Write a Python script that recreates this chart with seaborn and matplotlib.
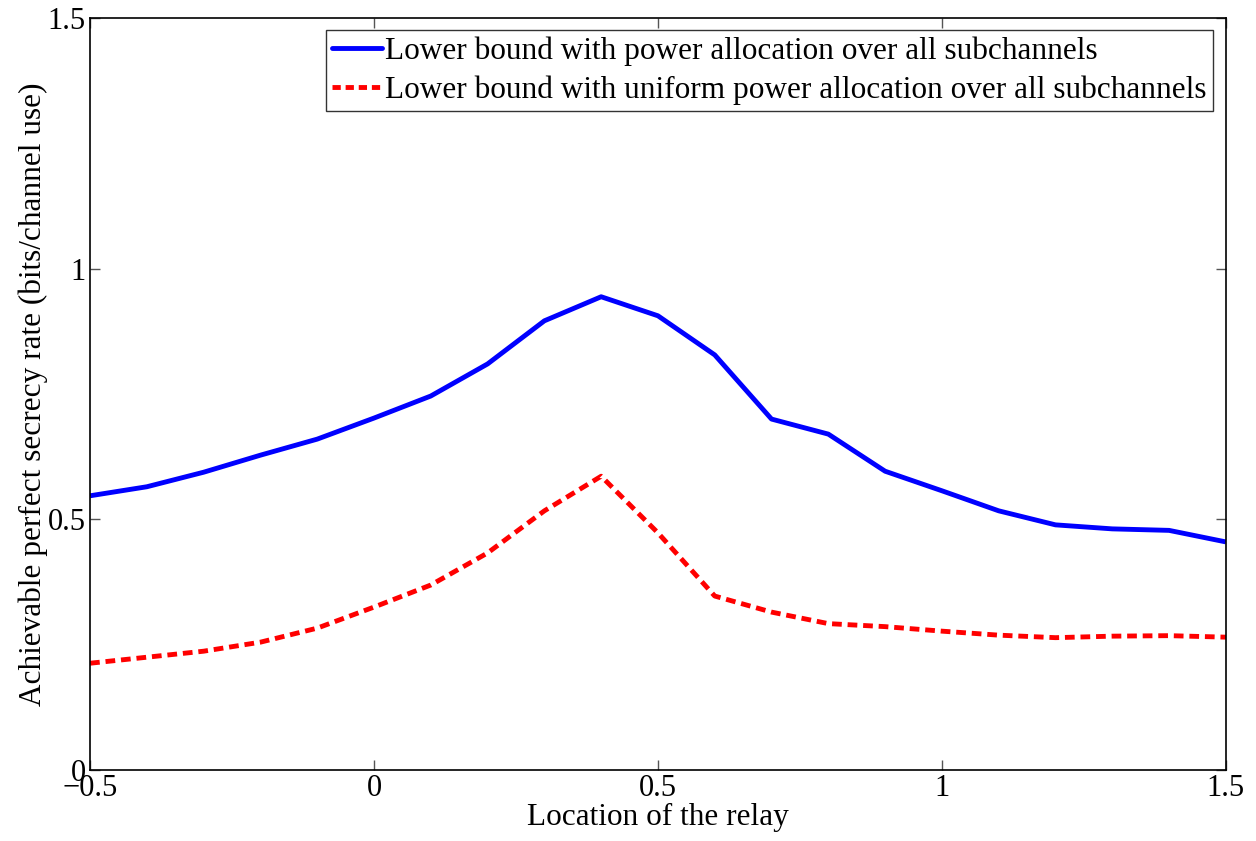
import numpy as np
import pandas as pd
import matplotlib
matplotlib.use("Agg")
import matplotlib.pyplot as plt
import seaborn as sns
from matplotlib.lines import Line2D

relay_location = [-0.5, -0.4, -0.3, -0.2, -0.1, 0.0, 0.1, 0.2, 0.3, 0.4, 0.5,
                  0.6, 0.7, 0.8, 0.9, 1.0, 1.1, 1.2, 1.3, 1.4, 1.5]
rate_power_alloc = [0.547, 0.565, 0.594, 0.628, 0.660, 0.702, 0.746, 0.810, 0.896, 0.944, 0.906,
                    0.828, 0.700, 0.670, 0.596, 0.557, 0.517, 0.489, 0.481, 0.478, 0.455]
rate_uniform = [0.213, 0.225, 0.237, 0.255, 0.283, 0.325, 0.369, 0.433, 0.517, 0.586, 0.473,
                0.347, 0.315, 0.292, 0.286, 0.277, 0.269, 0.264, 0.267, 0.268, 0.265]
label_power = "Lower bound with power allocation over all subchannels"
label_uniform = "Lower bound with uniform power allocation over all subchannels"

sns.set_style("ticks")
plt.rcParams['font.family'] = ['Liberation Serif', 'DejaVu Serif']
plt.rcParams['text.color'] = 'black'
plt.rcParams['axes.labelcolor'] = 'black'
plt.rcParams['xtick.labelcolor'] = 'black'
plt.rcParams['ytick.labelcolor'] = 'black'

df = pd.DataFrame({
    "x": relay_location * 2,
    "y": rate_power_alloc + rate_uniform,
    "series": [label_power] * len(relay_location) + [label_uniform] * len(relay_location),
})

fig = plt.figure(figsize=(12.56, 8.41), dpi=100)
ax = fig.add_axes([0.0717, 0.0844, 0.9043, 0.8942])

sns.lineplot(data=df, x="x", y="y", hue="series",
             palette={label_power: "#0000ff", label_uniform: "#ff0000"},
             ax=ax, legend=False, lw=3.5)
lines = ax.get_lines()
lines[0].set_linestyle("-")
lines[1].set_linestyle((0, (2.0, 1.2)))
for ln in lines[:2]:
    ln.set_solid_capstyle("butt")
    ln.set_dash_capstyle("butt")

ax.set_xlim(-0.5, 1.5)
ax.set_ylim(0, 1.5)
ax.set_xticks([-0.5, 0, 0.5, 1, 1.5])
ax.set_xticklabels(["\u22120.5", "0", "0.5", "1", "1.5"])
ax.set_yticks([0, 0.5, 1, 1.5])
ax.set_yticklabels(["0", "0.5", "1", "1.5"])
ax.tick_params(direction="in", top=True, right=True, labelsize=22, length=7, width=1,
               color="#555555", pad=3)
for s in ax.spines.values():
    s.set_linewidth(1.2)
    s.set_color("black")
    s.set_visible(True)

ax.set_xlabel("Location of the relay", fontsize=22.5, labelpad=0)
ax.set_ylabel("Achievable perfect secrecy rate (bits/channel use)", fontsize=22.5, labelpad=0)

handles = [Line2D([], [], color="#0000ff", lw=3.5),
           Line2D([], [], color="#ff0000", lw=3.5, linestyle=(0, (1.7, 1.0)))]
leg = ax.legend(handles, [label_power, label_uniform], loc="upper right",
                bbox_to_anchor=(0.9885, 0.984), fontsize=22.5, frameon=True, fancybox=False,
                edgecolor="black", handlelength=1.6, handletextpad=0.1, borderpad=0.2,
                labelspacing=0.3, borderaxespad=0)
leg.get_frame().set_linewidth(1.0)

fig.savefig("out.png", dpi=100, facecolor="white")
